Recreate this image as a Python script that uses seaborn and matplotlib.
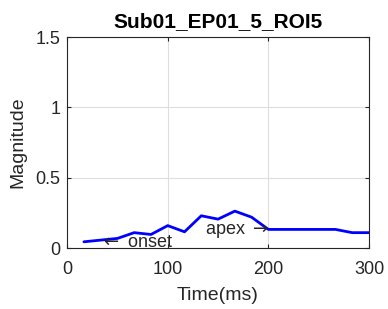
import pandas as pd
import matplotlib
matplotlib.use("Agg")
import matplotlib.pyplot as plt
import seaborn as sns

# frames at 60 fps -> ms
time_ms = [16.67, 33.33, 50.0, 66.67, 83.33, 100.0, 116.67, 133.33, 150.0,
           166.67, 183.33, 200.0, 216.67, 233.33, 250.0, 266.67, 283.33, 300.0]
magnitude = [0.045, 0.057, 0.069, 0.11, 0.097, 0.16, 0.116, 0.23, 0.206,
             0.263, 0.22, 0.133, 0.133, 0.133, 0.133, 0.133, 0.11, 0.11]
x_ticks = [0, 100, 200, 300]
y_ticks = [0, 0.5, 1, 1.5]
y_tick_labels = ["0", "0.5", "1", "1.5"]

df = pd.DataFrame({"Time": time_ms, "Magnitude": magnitude})

sns.set_style("whitegrid")
plt.rcParams["font.family"] = ["Liberation Sans", "DejaVu Sans"]
plt.rcParams["mathtext.fontset"] = "dejavusans"

fig = plt.figure(figsize=(3.88, 3.09), dpi=100)
ax = fig.add_axes([0.173, 0.197, 0.778, 0.683])
sns.lineplot(data=df, x="Time", y="Magnitude", color="#0000ff", linewidth=2, ax=ax)

ax.set_xlim(0, 300)
ax.set_ylim(0, 1.5)
ax.set_xticks(x_ticks)
ax.set_yticks(y_ticks)
ax.set_yticklabels(y_tick_labels)
ax.tick_params(labelsize=13, colors="#262626", direction="in", length=3,
               left=True, bottom=True, top=True, right=True)
ax.tick_params(axis="x", pad=9)
ax.tick_params(axis="y", pad=5)
ax.grid(True, color="#dedede", linewidth=0.8)
for s in ax.spines.values():
    s.set_color("#262626")
    s.set_linewidth(0.8)

ax.set_xlabel("Time(ms)", fontsize=14, color="#262626", labelpad=7)
ax.set_ylabel("Magnitude", fontsize=14, color="#262626", labelpad=6)
ax.set_title("Sub01_EP01_5_ROI5", fontsize=15, fontweight="bold",
             color="black", pad=7)

ax.text(33, 0.04, "$\\leftarrow$ onset", fontsize=13, ha="left", va="center")
ax.text(200, 0.12, "apex $\\rightarrow$", fontsize=13, ha="right", va="center")

fig.savefig("out.png", dpi=100)
